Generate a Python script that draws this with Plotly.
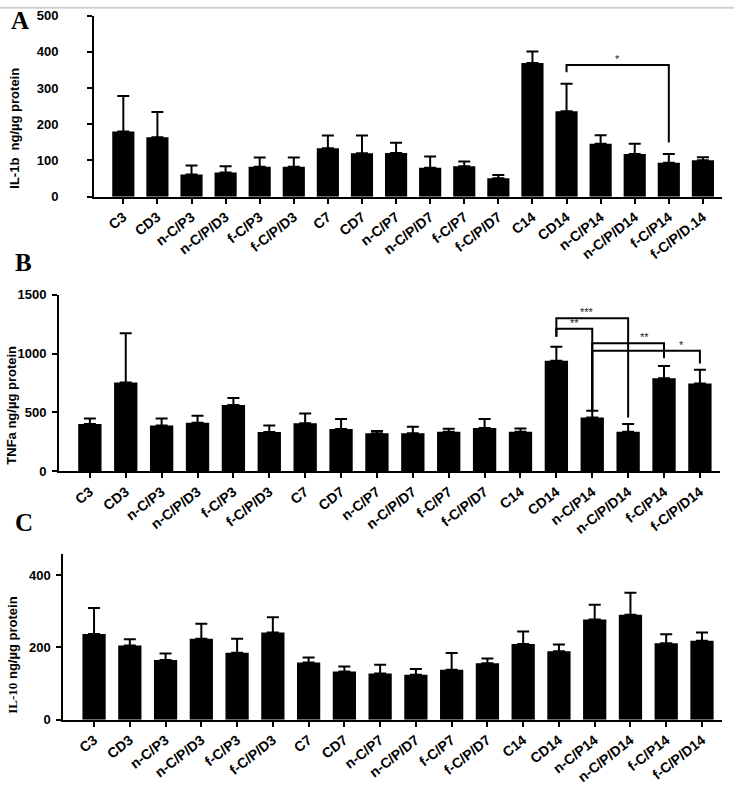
import plotly.graph_objects as go

# ---------------- data ----------------
cats_A = ["C3", "CD3", "n-C/P3", "n-C/P/D3", "f-C/P3", "f-C/P/D3", "C7", "CD7", "n-C/P7",
          "n-C/P/D7", "f-C/P7", "f-C/P/D7", "C14", "CD14", "n-C/P14", "n-C/P/D14", "f-C/P14", "f-C/P/D.14"]
cats_BC = ["C3", "CD3", "n-C/P3", "n-C/P/D3", "f-C/P3", "f-C/P/D3", "C7", "CD7", "n-C/P7",
           "n-C/P/D7", "f-C/P7", "f-C/P/D7", "C14", "CD14", "n-C/P14", "n-C/P/D14", "f-C/P14", "f-C/P/D14"]

il1b_mean = [180, 164, 61, 67, 83, 83, 134, 120, 121, 80, 84, 51, 369, 236, 146, 118, 94, 101]
il1b_err = [98, 70, 25, 17, 25, 25, 35, 49, 28, 31, 13, 9, 32, 76, 24, 28, 24, 8]

tnfa_mean = [402, 755, 390, 413, 564, 334, 408, 360, 323, 323, 337, 368, 337, 940, 458, 337, 790, 747]
tnfa_err = [48, 417, 60, 60, 59, 56, 84, 85, 20, 57, 25, 77, 28, 119, 57, 65, 105, 116]

il10_mean = [237, 205, 165, 224, 185, 241, 158, 133, 128, 124, 138, 156, 209, 189, 277, 290, 211, 218]
il10_err = [72, 17, 18, 41, 39, 42, 14, 14, 24, 16, 46, 13, 35, 19, 41, 61, 25, 23]

y_ticks_A = [0, 100, 200, 300, 400, 500]
y_ticks_B = [0, 500, 1000, 1500]
y_ticks_C = [0, 200, 400]

# significance brackets: (from idx, to idx, bracket height, left leg bottom, right leg bottom, label, label x)
sig_A = [(13, 16, 364, 344, 150, "*", 14.5)]
sig_B = [
    (13, 15, 1300, 1143, 458, "***", 13.85),
    (13, 14, 1210, 1143, 520, "**", 13.5),
    (14, 16, 1087, 524, 960, "**", 15.45),
    (14, 17, 1025, 524, 915, "*", 16.5),
]

# ---------------- layout helpers ----------------
W, H = 734, 789
SY, OY = 0.981, 6.3   # observed vertical mapping of the renderer


def xdom(l, r):
    return [l / W, r / W]


def ypos(p):
    """target screen pixel (from top) -> paper fraction"""
    return 1 - ((p - OY) / SY) / H


def ydom(bottom_px, top_px):
    return [ypos(bottom_px), ypos(top_px)]


fig = go.Figure()

panels = [
    dict(cats=cats_A, mean=il1b_mean, err=il1b_err, xa="x", ya="y",
         xd=xdom(94, 722), yd=ydom(196, 15), yr=[0, 500], yt=y_ticks_A, standoff=26),
    dict(cats=cats_BC, mean=tnfa_mean, err=tnfa_err, xa="x2", ya="y2",
         xd=xdom(59, 720), yd=ydom(470.7, 294), yr=[0, 1500], yt=y_ticks_B, standoff=3),
    dict(cats=cats_BC, mean=il10_mean, err=il10_err, xa="x3", ya="y3",
         xd=xdom(63.3, 722), yd=ydom(719, 553.3), yr=[0, 458], yt=y_ticks_C, standoff=3),
]

xtickfont = dict(family="Arial, Liberation Sans, sans-serif", size=14, color="black", weight="bold")
ytickfont = dict(family="Arial, Liberation Sans, sans-serif", size=13, color="black", weight="bold")

for i, p in enumerate(panels):
    fig.add_trace(go.Bar(
        x=list(range(len(p["cats"]))), y=p["mean"],
        xaxis=p["xa"], yaxis=p["ya"], width=0.65,
        marker=dict(color="black", line=dict(width=0)),
        error_y=dict(type="data", array=p["err"], arrayminus=[0] * len(p["err"]),
                     symmetric=False, color="black", thickness=2, width=6),
        showlegend=False,
    ))
    suffix = "" if i == 0 else str(i + 1)
    fig.layout["xaxis" + suffix] = dict(
        domain=p["xd"], anchor="y" + suffix, range=[-0.86, 17.56],
        tickmode="array", tickvals=list(range(len(p["cats"]))), ticktext=p["cats"],
        tickangle=-38, ticks="outside", ticklen=5, tickwidth=2, tickcolor="black",
        showline=True, linecolor="black", linewidth=2, showgrid=False, zeroline=False,
        tickfont=xtickfont,
    )
    fig.layout["yaxis" + suffix] = dict(
        domain=p["yd"], anchor="x" + suffix, range=p["yr"],
        tickmode="array", tickvals=p["yt"], ticks="outside", ticklen=5, tickwidth=2,
        tickcolor="black", showline=True, linecolor="black", linewidth=2,
        showgrid=False, zeroline=False, tickfont=ytickfont, ticklabelstandoff=p["standoff"],
    )

# significance brackets
line_style = dict(color="black", width=2)
for (sig, xa, ya) in [(sig_A, "x", "y"), (sig_B, "x2", "y2")]:
    for (a, b, top, lb, rb, lab, lx) in sig:
        fig.add_shape(type="path", xref=xa, yref=ya,
                      path=f"M {a} {lb} L {a} {top} L {b} {top} L {b} {rb}",
                      line=line_style)
        fig.add_annotation(x=lx, y=top, xref=xa, yref=ya, text=lab, showarrow=False,
                           yanchor="bottom", yshift=-2,
                           font=dict(family="Arial, Liberation Sans", size=11, color="#222222"))

# panel letters
for lab, px, py in [("A", 20, 20), ("B", 23, 262), ("C", 24, 522)]:
    fig.add_annotation(x=px / W, y=ypos(py), xref="paper", yref="paper", text=lab,
                       showarrow=False, xanchor="center", yanchor="middle",
                       font=dict(family="Liberation Serif, Times New Roman, serif", size=25,
                                 color="black", weight="bold"))

# y-axis titles
ytitles = [
    ("IL-1b  ng/µg protein", 15, 128),
    ("TNFa ng/µg protein", 12, 405),
    ("<span style='font-family:Liberation Serif, Times New Roman, serif'>IL-10</span> ng/µg protein", 13, 655),
]
for txt, px, py in ytitles:
    fig.add_annotation(x=px / W, y=ypos(py), xref="paper", yref="paper", text=txt,
                       showarrow=False, textangle=-90, xanchor="center", yanchor="middle",
                       font=dict(family="Arial, Liberation Sans, sans-serif", size=13,
                                 color="black", weight="bold"))

# faint top border
fig.add_shape(type="line", xref="paper", yref="paper", x0=0, x1=1, y0=0.999, y1=0.999,
              line=dict(color="#d0d0d0", width=2))

fig.update_layout(width=W, height=H, margin=dict(l=0, r=0, t=0, b=0),
                  plot_bgcolor="white", paper_bgcolor="white", bargap=0.35)

fig.write_html("out.html", config={"displayModeBar": False},
               post_script="document.body.style.margin='0';document.body.style.overflow='hidden';")
